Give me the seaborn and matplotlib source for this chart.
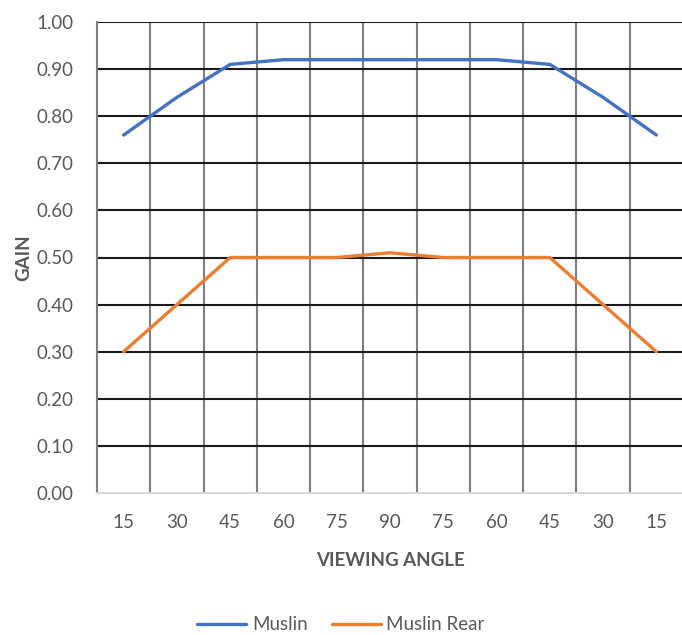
import pandas as pd
import matplotlib
matplotlib.use('Agg')
import matplotlib.pyplot as plt
import seaborn as sns

# data
angles = ['15', '30', '45', '60', '75', '90', '75', '60', '45', '30', '15']
muslin = [0.76, 0.84, 0.91, 0.92, 0.92, 0.92, 0.92, 0.92, 0.91, 0.84, 0.76]
muslin_rear = [0.30, 0.40, 0.50, 0.50, 0.50, 0.51, 0.50, 0.50, 0.50, 0.40, 0.30]
series_names = ['Muslin', 'Muslin Rear']
y_ticks = [0.0, 0.1, 0.2, 0.3, 0.4, 0.5, 0.6, 0.7, 0.8, 0.9, 1.0]

pos = list(range(len(angles)))
df = pd.DataFrame({
    'pos': pos * 2,
    'gain': muslin + muslin_rear,
    'series': [series_names[0]] * len(pos) + [series_names[1]] * len(pos),
})

sns.set_style('white')
plt.rcParams['font.family'] = ['Lato', 'DejaVu Sans']
text_col = '#595959'
fs = 13.5

fig = plt.figure(figsize=(6.82, 6.35), dpi=100)
ax = fig.add_axes([97 / 682, 142 / 635, 586 / 682, 471 / 635])

sns.lineplot(data=df, x='pos', y='gain', hue='series',
             palette=['#4472C4', '#ED7D31'], linewidth=2.4, ax=ax, legend=False)

ax.set_xlim(-0.5, len(angles) - 0.5)
ax.set_ylim(0, 1.0)
ax.set_yticks(y_ticks)
ax.set_yticklabels([f'{v:.2f}' for v in y_ticks])
ax.set_xticks(pos)
ax.set_xticklabels(angles)
ax.set_xticks([p + 0.5 for p in pos[:-1]], minor=True)

ax.grid(False)
for v in y_ticks[1:]:
    ax.axhline(v, color='#1a1a1a', lw=1.5, zorder=1)
ax.grid(True, which='minor', axis='x', color='#7f7f7f', lw=1.5, zorder=1)

for s in ['top', 'right']:
    ax.spines[s].set_visible(False)
ax.spines['left'].set_color('#7f7f7f')
ax.spines['left'].set_linewidth(1.5)
ax.spines['bottom'].set_color('#d9d9d9')
ax.spines['bottom'].set_linewidth(1.5)

ax.tick_params(axis='both', which='both', length=0, labelsize=fs, colors=text_col)
ax.tick_params(axis='y', pad=17)
ax.tick_params(axis='x', pad=15)

ax.set_xlabel('VIEWING ANGLE', fontsize=fs, fontweight='bold', color=text_col, labelpad=15)
ax.set_ylabel('GAIN', fontsize=fs, fontweight='bold', color=text_col, labelpad=3)

handles = [plt.Line2D([0], [0], color='#4472C4', lw=2.4),
           plt.Line2D([0], [0], color='#ED7D31', lw=2.4)]
fig.legend(handles, series_names, loc='center', bbox_to_anchor=(0.5, 10 / 635),
           ncol=2, frameon=False, fontsize=fs, handlelength=2.6,
           columnspacing=1.3, handletextpad=0.3, labelcolor=text_col)

fig.savefig('out.png', dpi=100)
